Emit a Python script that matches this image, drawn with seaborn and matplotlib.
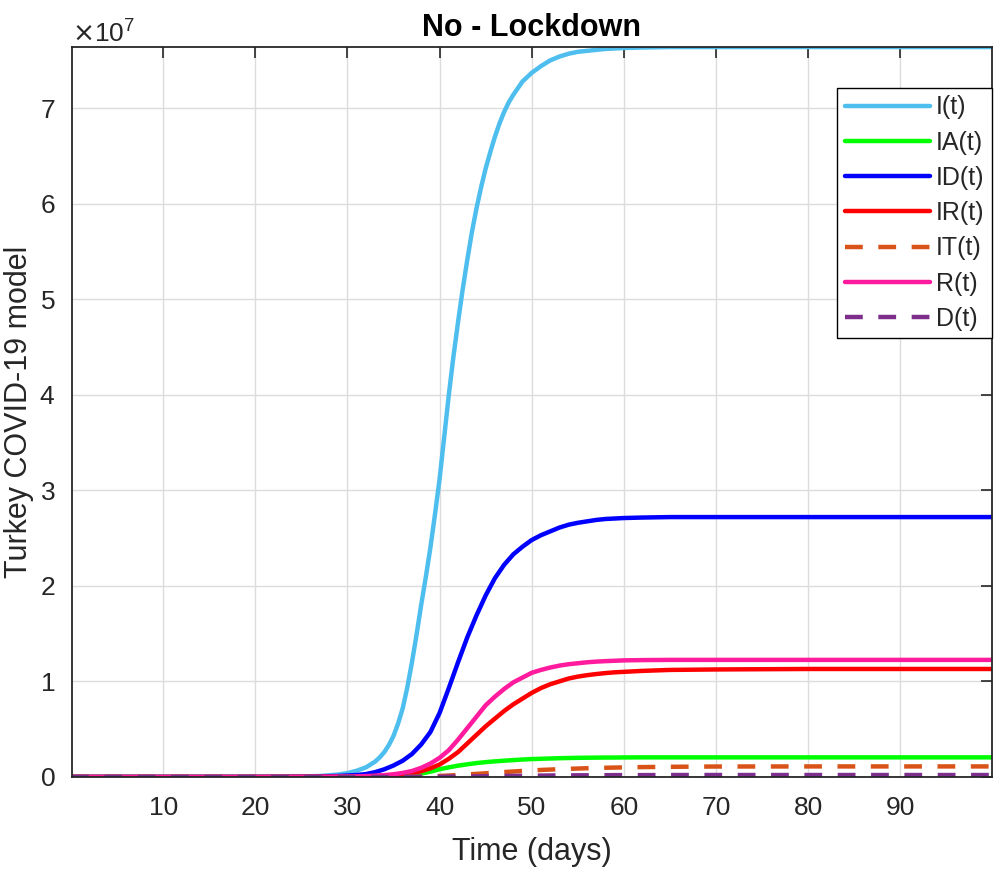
import numpy as np
import pandas as pd
import seaborn as sns
import matplotlib.pyplot as plt
from matplotlib.ticker import ScalarFormatter

# time axis (days); dense where the curves rise
days = [0, 5, 10, 15, 20, 25, 27, 29] + list(range(30, 61)) + [62, 65, 70, 80, 90, 100]
# I(t) rises steeply, so it is read every half day around the jump
days_I = ([0, 5, 10, 15, 20, 25, 27, 29, 30, 31, 32] + list(np.arange(33, 48.5, 0.5))
          + list(range(49, 61)) + [62, 65, 70, 80, 90, 100])

# values in units of 1e7 people
I_t = [0.0, 0.0, 0.0002, 0.0004, 0.001, 0.004, 0.01, 0.025,
       0.04, 0.065, 0.10,
       0.16, 0.205, 0.26, 0.335, 0.43, 0.56, 0.72, 0.94, 1.20, 1.49,
       1.80, 2.09, 2.40, 2.75, 3.12, 3.56, 4.00, 4.40, 4.76, 5.10,
       5.41, 5.70, 5.95, 6.17, 6.37, 6.54, 6.70, 6.84, 6.96, 7.06, 7.14,
       7.28, 7.37, 7.44, 7.50, 7.54, 7.57, 7.59, 7.60, 7.61, 7.62, 7.625, 7.63,
       7.635, 7.64, 7.64, 7.64, 7.64, 7.64]
IA_t = [0.0, 0.0, 0.0, 0.0, 0.0, 0.0, 0.0005, 0.001,
        0.001, 0.0015, 0.002, 0.003, 0.005, 0.008, 0.013, 0.02, 0.035, 0.055,
        0.08, 0.10, 0.118, 0.132, 0.145, 0.155, 0.163, 0.17, 0.176, 0.182,
        0.187, 0.19, 0.193, 0.196, 0.198, 0.20, 0.201, 0.202, 0.203, 0.203, 0.204,
        0.205, 0.205, 0.205, 0.205, 0.205, 0.205]
ID_t = [0.0, 0.0, 0.0, 0.0, 0.0005, 0.002, 0.005, 0.01,
        0.015, 0.02, 0.03, 0.05, 0.08, 0.12, 0.17, 0.24, 0.34, 0.47,
        0.67, 0.93, 1.20, 1.46, 1.69, 1.90, 2.08, 2.22, 2.33, 2.41,
        2.48, 2.53, 2.57, 2.61, 2.64, 2.66, 2.675, 2.69, 2.70, 2.705, 2.71,
        2.715, 2.72, 2.72, 2.72, 2.72, 2.72]
IR_t = [0.0, 0.0, 0.0, 0.0, 0.0, 0.001, 0.0015, 0.002,
        0.003, 0.004, 0.006, 0.008, 0.012, 0.018, 0.027, 0.04, 0.06, 0.09,
        0.13, 0.19, 0.26, 0.35, 0.44, 0.53, 0.61, 0.69, 0.76, 0.82,
        0.88, 0.93, 0.97, 1.00, 1.03, 1.05, 1.065, 1.077, 1.087, 1.095, 1.10,
        1.11, 1.12, 1.125, 1.13, 1.13, 1.13]
IT_t = [0.0, 0.0, 0.0, 0.0, 0.0, 0.0, 0.0, 0.0,
        0.0, 0.0, 0.0005, 0.0005, 0.001, 0.001, 0.0015, 0.002, 0.004, 0.007,
        0.01, 0.015, 0.02, 0.026, 0.032, 0.038, 0.045, 0.051, 0.057, 0.063,
        0.068, 0.073, 0.077, 0.081, 0.085, 0.088, 0.091, 0.094, 0.096, 0.098, 0.10,
        0.103, 0.106, 0.109, 0.11, 0.11, 0.11]
R_t = [0.0, 0.0, 0.0, 0.0, 0.0, 0.001, 0.002, 0.003,
       0.004, 0.006, 0.009, 0.013, 0.019, 0.028, 0.042, 0.062, 0.095, 0.14,
       0.20, 0.28, 0.39, 0.51, 0.63, 0.75, 0.84, 0.92, 0.99, 1.04,
       1.09, 1.12, 1.145, 1.165, 1.18, 1.19, 1.20, 1.207, 1.212, 1.216, 1.22,
       1.223, 1.225, 1.225, 1.225, 1.225, 1.225]
D_t = [0.0, 0.0, 0.0, 0.0, 0.0, 0.0, 0.0, 0.0,
       0.0, 0.0, 0.0, 0.0, 0.0, 0.0005, 0.0008, 0.001, 0.0015, 0.002,
       0.002, 0.003, 0.004, 0.005, 0.006, 0.008, 0.009, 0.010, 0.011, 0.012,
       0.013, 0.014, 0.015, 0.016, 0.016, 0.017, 0.017, 0.018, 0.018, 0.019, 0.019,
       0.019, 0.02, 0.02, 0.02, 0.02, 0.02]

labels = ["I(t)", "IA(t)", "ID(t)", "IR(t)", "IT(t)", "R(t)", "D(t)"]
series = [I_t, IA_t, ID_t, IR_t, IT_t, R_t, D_t]
xs = [days_I, days, days, days, days, days, days]
colors = ["#4DBEEE", "#00FF00", "#0000FF", "#FF0000", "#D95319", "#FF1A9E", "#7E2F8E"]
dashed = [False, False, False, False, True, False, True]

for x, s in zip(xs, series):
    assert len(s) == len(x)

sns.set_theme(style="whitegrid")
plt.rcParams["font.family"] = ["Liberation Sans", "DejaVu Sans"]

fig = plt.figure(figsize=(10.04, 8.71), dpi=100)
ax = fig.add_axes([0.0717, 0.108, 0.9163, 0.838])

for lab, x, vals, col, dash in zip(labels, xs, series, colors, dashed):
    y = np.array(vals) * 1e7
    kw = {"linestyle": (0, (4.0, 3.5))} if dash else {"solid_joinstyle": "round"}
    sns.lineplot(x=x, y=y, ax=ax, color=col, linewidth=3.2, label=lab, **kw)

ax.set_xlim(0.1, 99.95)
ax.set_ylim(0, 7.64e7)
ax.set_xticks(range(10, 100, 10))
ax.set_yticks(np.arange(0, 8) * 1e7)

fmt = ScalarFormatter(useMathText=True)
fmt.set_powerlimits((0, 0))
ax.yaxis.set_major_formatter(fmt)
ax.yaxis.get_offset_text().set_fontsize(19)
ax.yaxis.get_offset_text().set_color("#404040")

ax.grid(True, color="#dcdcdc", linewidth=1.0)
for sp in ax.spines.values():
    sp.set_color("#262626")
    sp.set_linewidth(1.3)
ax.tick_params(direction="in", length=8, width=1.2, top=True, right=True,
               colors="#262626", labelsize=19, pad=12)
ax.tick_params(axis="x", pad=14)

ax.set_xlabel("Time (days)", fontsize=22, color="#262626", labelpad=12)
ax.set_ylabel("Turkey COVID-19 model", fontsize=22, color="#262626", labelpad=4)
ax.set_title("No - Lockdown", fontsize=22, fontweight="bold", color="black", pad=8)

leg = ax.legend(loc="upper right", bbox_to_anchor=(1.0, 0.944), fontsize=18,
                frameon=True, fancybox=False, framealpha=1, edgecolor="black",
                handlelength=3.4, handletextpad=0.25, labelspacing=0.45,
                borderpad=0.3, borderaxespad=0)
leg.get_frame().set_linewidth(1.0)

fig.savefig("out.png", dpi=100)
